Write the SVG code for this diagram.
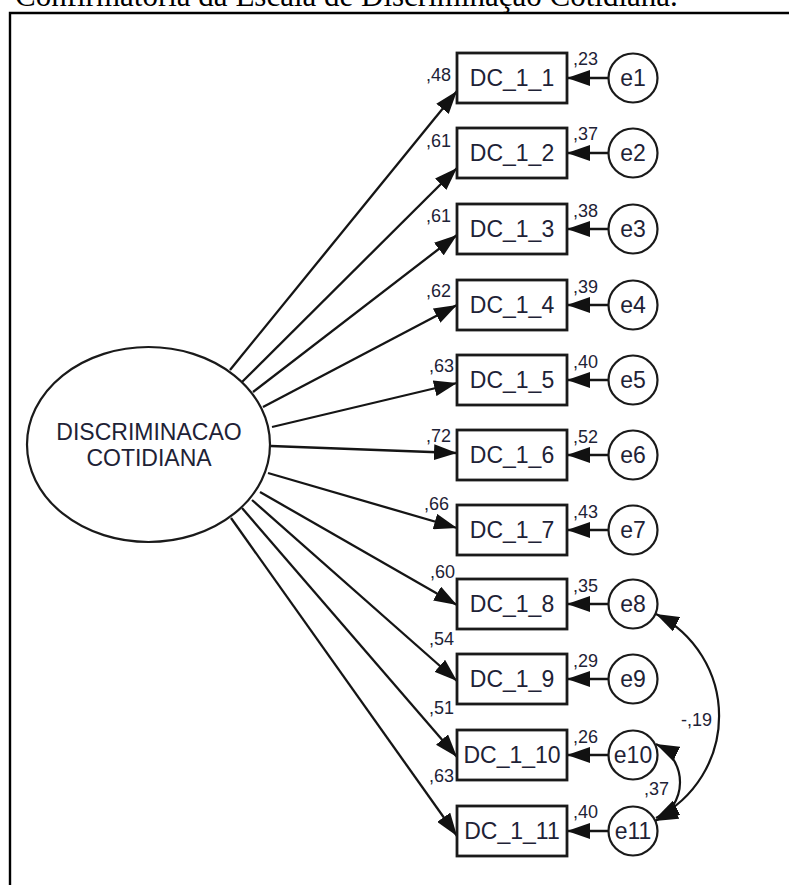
<svg xmlns="http://www.w3.org/2000/svg" width="789" height="885" viewBox="0 0 789 885">
<style>
.t{font-family:"Liberation Sans",Arial,sans-serif;fill:#1e2236}
.nm{font-size:23px;text-anchor:middle}
.lb{font-size:18px}
.box{fill:#fff;stroke:#1a1a1a;stroke-width:2.8}
.err{fill:#fff;stroke:#1a1a1a;stroke-width:2.2}
.ln{fill:none;stroke:#151515;stroke-width:2.3;marker-end:url(#ah)}
.cov{fill:none;stroke:#151515;stroke-width:2.2;marker-start:url(#ah);marker-end:url(#ah)}
</style>
<defs>
<marker id="ah" viewBox="0 0 23 16" refX="23" refY="8" markerWidth="23" markerHeight="16" markerUnits="userSpaceOnUse" orient="auto-start-reverse"><path d="M0,0 L23,8 L0,16 z" fill="#111"/></marker>
</defs>
<rect width="789" height="885" fill="#fff"/>
<text x="15" y="6" font-family="'Liberation Serif','Times New Roman',serif" font-size="31" fill="#000">Confirmatória da Escala de Discriminação Cotidiana.</text>
<path d="M10,885 V13 H789" fill="none" stroke="#000" stroke-width="2.4"/>

<g id="connectors">
<line class="ln" x1="230" y1="370" x2="457" y2="91"/>
<line class="ln" x1="242" y1="382" x2="457" y2="168"/>
<line class="ln" x1="253" y1="392" x2="457" y2="235"/>
<line class="ln" x1="263" y1="407" x2="457" y2="305"/>
<line class="ln" x1="272" y1="427" x2="457" y2="383"/>
<line class="ln" x1="271" y1="446" x2="457" y2="453"/>
<line class="ln" x1="268" y1="473" x2="457" y2="528"/>
<line class="ln" x1="260" y1="492" x2="457" y2="605"/>
<line class="ln" x1="252" y1="500" x2="457" y2="681"/>
<line class="ln" x1="242" y1="508" x2="457" y2="757"/>
<line class="ln" x1="231" y1="518" x2="457" y2="836"/>
<line class="ln" x1="608.5" y1="78" x2="567" y2="78"/>
<line class="ln" x1="608.5" y1="153" x2="567" y2="153"/>
<line class="ln" x1="608.5" y1="229" x2="567" y2="229"/>
<line class="ln" x1="608.5" y1="305" x2="567" y2="305"/>
<line class="ln" x1="608.5" y1="380" x2="567" y2="380"/>
<line class="ln" x1="608.5" y1="455" x2="567" y2="455"/>
<line class="ln" x1="608.5" y1="530" x2="567" y2="530"/>
<line class="ln" x1="608.5" y1="604" x2="567" y2="604"/>
<line class="ln" x1="608.5" y1="679" x2="567" y2="679"/>
<line class="ln" x1="608.5" y1="755" x2="567" y2="755"/>
<line class="ln" x1="608.5" y1="831" x2="567" y2="831"/>
<path class="cov" d="M656,614 A114,114 0 0,1 656,818"/>
<path class="cov" d="M656,744 A42.5,42.5 0 0,1 655,821"/>
<g class="t lb">
<text x="426" y="81">,48</text>
<text x="426" y="147">,61</text>
<text x="426" y="222">,61</text>
<text x="426" y="297">,62</text>
<text x="429" y="372">,63</text>
<text x="426" y="442">,72</text>
<text x="424" y="510">,66</text>
<text x="430" y="578">,60</text>
<text x="429" y="645">,54</text>
<text x="429" y="714">,51</text>
<text x="429" y="782">,63</text>
<text x="573" y="65">,23</text>
<text x="573" y="140">,37</text>
<text x="573" y="217">,38</text>
<text x="573" y="293">,39</text>
<text x="573" y="368">,40</text>
<text x="573" y="443">,52</text>
<text x="573" y="518">,43</text>
<text x="573" y="592">,35</text>
<text x="573" y="667">,29</text>
<text x="573" y="743">,26</text>
<text x="573" y="818">,40</text>
<text x="681" y="726">-,19</text>
<text x="644" y="795">,37</text>
</g>
</g>

<g id="latent">
<ellipse cx="148.5" cy="444.5" rx="121.5" ry="97.5" fill="#fff" stroke="#1a1a1a" stroke-width="2.2"/>
<text class="t nm" x="149" y="440">DISCRIMINACAO</text>
<text class="t nm" x="149" y="466">COTIDIANA</text>
</g>

<g id="DC_1_1"><rect class="box" x="457" y="53" width="110" height="50"/><text class="t nm" x="512" y="86">DC_1_1</text></g>
<g id="DC_1_2"><rect class="box" x="457" y="128" width="110" height="50"/><text class="t nm" x="512" y="161">DC_1_2</text></g>
<g id="DC_1_3"><rect class="box" x="457" y="204" width="110" height="50"/><text class="t nm" x="512" y="237">DC_1_3</text></g>
<g id="DC_1_4"><rect class="box" x="457" y="280" width="110" height="50"/><text class="t nm" x="512" y="313">DC_1_4</text></g>
<g id="DC_1_5"><rect class="box" x="457" y="355" width="110" height="50"/><text class="t nm" x="512" y="388">DC_1_5</text></g>
<g id="DC_1_6"><rect class="box" x="457" y="430" width="110" height="50"/><text class="t nm" x="512" y="463">DC_1_6</text></g>
<g id="DC_1_7"><rect class="box" x="457" y="505" width="110" height="50"/><text class="t nm" x="512" y="538">DC_1_7</text></g>
<g id="DC_1_8"><rect class="box" x="457" y="579" width="110" height="50"/><text class="t nm" x="512" y="612">DC_1_8</text></g>
<g id="DC_1_9"><rect class="box" x="457" y="654" width="110" height="50"/><text class="t nm" x="512" y="687">DC_1_9</text></g>
<g id="DC_1_10"><rect class="box" x="457" y="730" width="110" height="50"/><text class="t nm" x="512" y="763">DC_1_10</text></g>
<g id="DC_1_11"><rect class="box" x="457" y="806" width="110" height="50"/><text class="t nm" x="512" y="839">DC_1_11</text></g>

<g id="e1"><circle class="err" cx="633" cy="78" r="24.5"/><text class="t nm" x="633" y="86">e1</text></g>
<g id="e2"><circle class="err" cx="633" cy="153" r="24.5"/><text class="t nm" x="633" y="161">e2</text></g>
<g id="e3"><circle class="err" cx="633" cy="229" r="24.5"/><text class="t nm" x="633" y="237">e3</text></g>
<g id="e4"><circle class="err" cx="633" cy="305" r="24.5"/><text class="t nm" x="633" y="313">e4</text></g>
<g id="e5"><circle class="err" cx="633" cy="380" r="24.5"/><text class="t nm" x="633" y="388">e5</text></g>
<g id="e6"><circle class="err" cx="633" cy="455" r="24.5"/><text class="t nm" x="633" y="463">e6</text></g>
<g id="e7"><circle class="err" cx="633" cy="530" r="24.5"/><text class="t nm" x="633" y="538">e7</text></g>
<g id="e8"><circle class="err" cx="633" cy="604" r="24.5"/><text class="t nm" x="633" y="612">e8</text></g>
<g id="e9"><circle class="err" cx="633" cy="679" r="24.5"/><text class="t nm" x="633" y="687">e9</text></g>
<g id="e10"><circle class="err" cx="633" cy="755" r="24.5"/><text class="t nm" x="633" y="763">e10</text></g>
<g id="e11"><circle class="err" cx="633" cy="831" r="24.5"/><text class="t nm" x="633" y="839">e11</text></g>
</svg>
